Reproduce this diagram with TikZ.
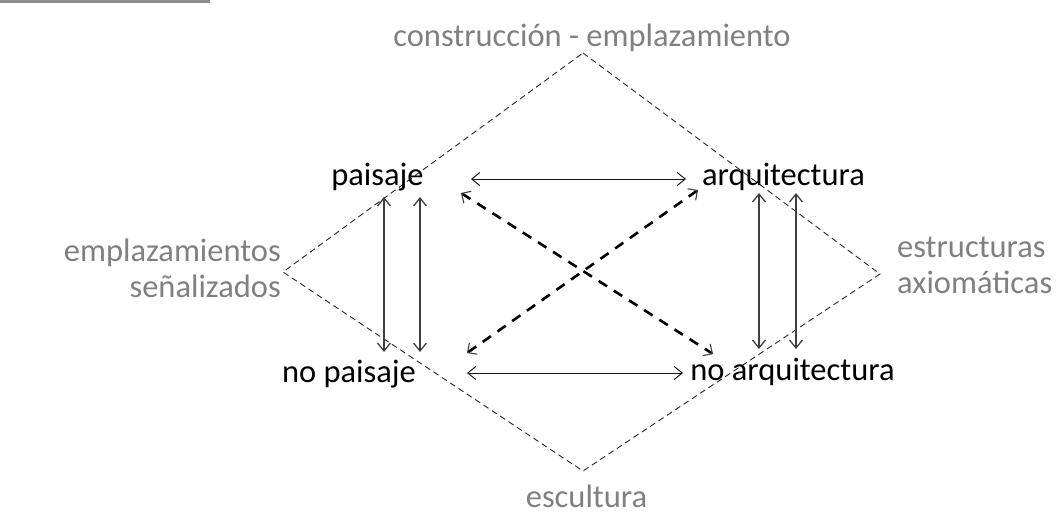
\documentclass[tikz,border=0pt]{standalone}
\usepackage{fontspec}
\setmainfont{Carlito}
\usetikzlibrary{arrows.meta}
\definecolor{labelgray}{RGB}{128,128,128}
\definecolor{bargray}{RGB}{140,140,140}
\definecolor{arrowgray}{RGB}{64,64,64}
\begin{document}
\begin{tikzpicture}[x=1pt,y=-1pt,
  lbl/.style={inner sep=0pt, anchor=base, font=\fontsize{32.5}{38}\selectfont},
  glbl/.style={lbl, text=labelgray},
  diamondline/.style={draw=black!85, line width=0.9pt, dash pattern=on 6pt off 4pt},
  vlink/.style={draw=arrowgray, line width=1.3pt, {Straight Barb[length=8pt,width=13pt]}-{Straight Barb[length=8pt,width=13pt]}},
  hlink/.style={draw=black!90, line width=1pt, {Straight Barb[length=8pt,width=13pt]}-{Straight Barb[length=8pt,width=13pt]}},
  xlink/.style={draw=black, line width=2.6pt, dash pattern=on 10pt off 8pt,
    {Straight Barb[length=7pt,width=14pt,line width=1.1pt,color=arrowgray]}-{Straight Barb[length=7pt,width=14pt,line width=1.1pt,color=arrowgray]}}
]
\useasboundingbox (0,0) rectangle (1061,515);
\fill[bargray] (0,0) rectangle (210,3);

% diamond corners
\coordinate (dtop) at (583,53);
\coordinate (dleft) at (283,272);
\coordinate (dbottom) at (583,471);
\coordinate (dright) at (880,274);
\draw[diamondline] (dtop) -- (dright) -- (dbottom) -- (dleft) -- cycle;

% gray labels
\node[glbl] (ce) at (592,46) {construcción - emplazamiento};
\node[glbl] (esc) at (586.5,507) {escultura};
\node[glbl, anchor=base east] (emp1) at (281,261) {emplazamientos};
\node[glbl, anchor=base east] (emp2) at (281,297) {señalizados};
\node[glbl, anchor=base west] (est1) at (897,257) {estructuras};
\node[glbl, anchor=base west] (est2) at (897,293) {axiomáticas};

% black labels
\node[lbl] (pai) at (377.5,185) {paisaje};
\node[lbl] (arq) at (783.5,185) {arquitectura};
\node[lbl] (npai) at (349,382) {no paisaje};
\node[lbl] (narq) at (792.5,380) {no arquitectura};

% arrow endpoints
\coordinate (v1t) at (384,197); \coordinate (v1b) at (384,352);
\coordinate (v2t) at (420,197); \coordinate (v2b) at (420,352);
\coordinate (v3t) at (759,193); \coordinate (v3b) at (759,349);
\coordinate (v4t) at (796,193); \coordinate (v4b) at (796,349);
\coordinate (h1l) at (471,179); \coordinate (h1r) at (686,179);
\coordinate (h2l) at (467,373); \coordinate (h2r) at (683,373);
\coordinate (d1a) at (461,193); \coordinate (d1b) at (713,354);
\coordinate (d2a) at (467,353); \coordinate (d2b) at (698,190);

\draw[vlink] (v1t) -- (v1b);
\draw[vlink] (v2t) -- (v2b);
\draw[vlink] (v3t) -- (v3b);
\draw[vlink] (v4t) -- (v4b);
\draw[hlink] (h1l) -- (h1r);
\draw[hlink] (h2l) -- (h2r);
\draw[xlink] (d1a) -- (d1b);
\draw[xlink] (d2a) -- (d2b);
\end{tikzpicture}
\end{document}
